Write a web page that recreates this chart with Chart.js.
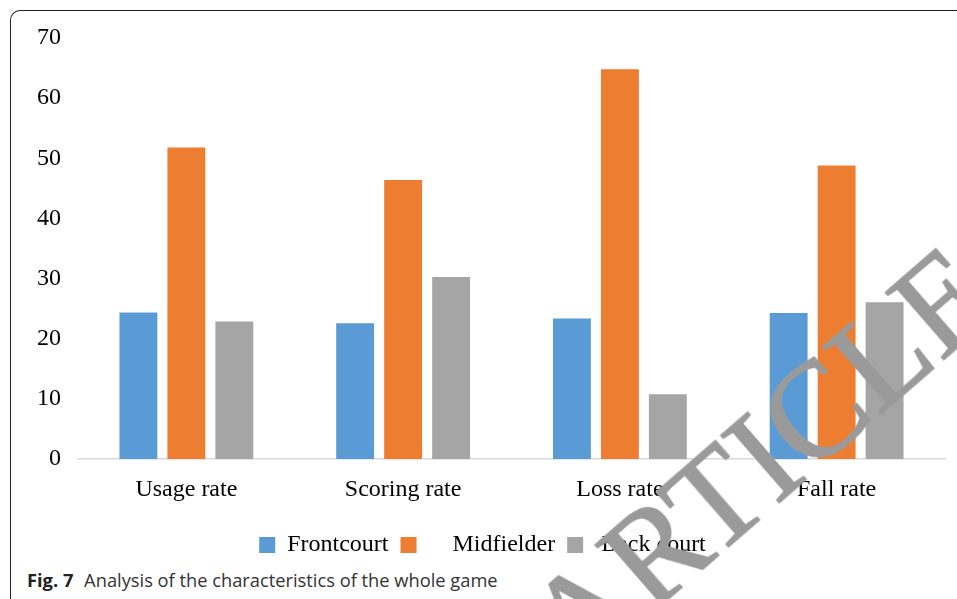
<!DOCTYPE html>
<html>
<head>
<meta charset="utf-8">
<script src="https://cdn.jsdelivr.net/npm/chart.js@4.4.1/dist/chart.umd.min.js"></script>
<style>
    html, body { margin: 0; padding: 0; background: #fff; }
    body { width: 957px; height: 599px; overflow: hidden; position: relative; }
    .frame {
        position: absolute; left: 10px; top: 10px; width: 1000px; height: 700px;
        border-top: 1.5px solid #222; border-left: 1.5px solid #222;
        border-top-left-radius: 10px;
    }
    .chart-box { position: absolute; left: 0; top: 0; width: 957px; height: 567px; }
    .caption {
        position: absolute; left: 27px; top: 567px; white-space: nowrap;
        font-family: "Open Sans", sans-serif; font-size: 18.3px; color: #333;
    }
    .caption b { color: #222; margin-right: 6px; }
    .watermark {
        position: absolute; right: -16px; top: 205px; height: 136px; line-height: 136px;
        white-space: nowrap; font-family: "Liberation Serif", serif; font-size: 136px;
        color: #9a9a9a; -webkit-text-stroke: 1.5px #9a9a9a;
        transform-origin: right center; transform: rotate(-41deg);
        pointer-events: none;
    }
</style>
</head>
<body>
<div class="frame"></div>
<div class="chart-box"><canvas id="gameChart"></canvas></div>
<div class="caption"><b>Fig. 7</b> Analysis of the characteristics of the whole game</div>
<div class="watermark">RETRACTED ARTICLE</div>

<script>
// Dados do gráfico
const categories = ['Usage rate', 'Scoring rate', 'Loss rate', 'Fall rate'];
const seriesNames = ['Frontcourt', 'Midfielder', 'Back court'];
const frontcourt = [24.4, 22.6, 23.4, 24.3];
const midfielder = [51.8, 46.4, 64.8, 48.8];
const backcourt = [22.9, 30.3, 10.8, 26.1];
const yTicks = [0, 10, 20, 30, 40, 50, 60, 70];

const colors = ['#5B9BD5', '#ED7D31', '#A5A5A5'];
const serif = 'Liberation Serif';
// Excel deixa espaços desiguais entre caixa e texto na legenda
const legendIndent = ['', '    ', ' '];

const ctx = document.getElementById('gameChart');
new Chart(ctx, {
    type: 'bar',
    data: {
        labels: categories,
        datasets: [frontcourt, midfielder, backcourt].map((values, i) => ({
            label: seriesNames[i],
            data: values,
            backgroundColor: colors[i],
            borderWidth: 0,
            categoryPercentage: 0.664,
            barPercentage: 0.79
        }))
    },
    options: {
        responsive: true,
        maintainAspectRatio: false,
        animation: false,
        layout: { padding: { left: 20, right: 12, top: 38, bottom: 0 } },
        plugins: {
            tooltip: { enabled: false },
            legend: {
                position: 'bottom',
                labels: {
                    boxWidth: 16,
                    boxHeight: 16,
                    padding: 12,
                    color: '#000',
                    font: { family: serif, size: 24 },
                    generateLabels: (chart) => {
                        const items = Chart.defaults.plugins.legend.labels.generateLabels(chart);
                        items.forEach((item, i) => { item.text = legendIndent[i] + item.text; });
                        return items;
                    }
                }
            }
        },
        scales: {
            x: {
                grid: { display: false, drawTicks: false },
                border: { display: true, color: '#d9d9d9', width: 1.5 },
                ticks: { color: '#000', padding: 16.5, font: { family: serif, size: 24 } }
            },
            y: {
                min: yTicks[0],
                max: yTicks[yTicks.length - 1],
                grid: { display: false, drawTicks: false },
                border: { display: false },
                afterBuildTicks: (scale) => { scale.ticks = yTicks.map(v => ({ value: v })); },
                ticks: { color: '#000', padding: 17, font: { family: serif, size: 24 } }
            }
        }
    }
});
</script>
</body>
</html>
